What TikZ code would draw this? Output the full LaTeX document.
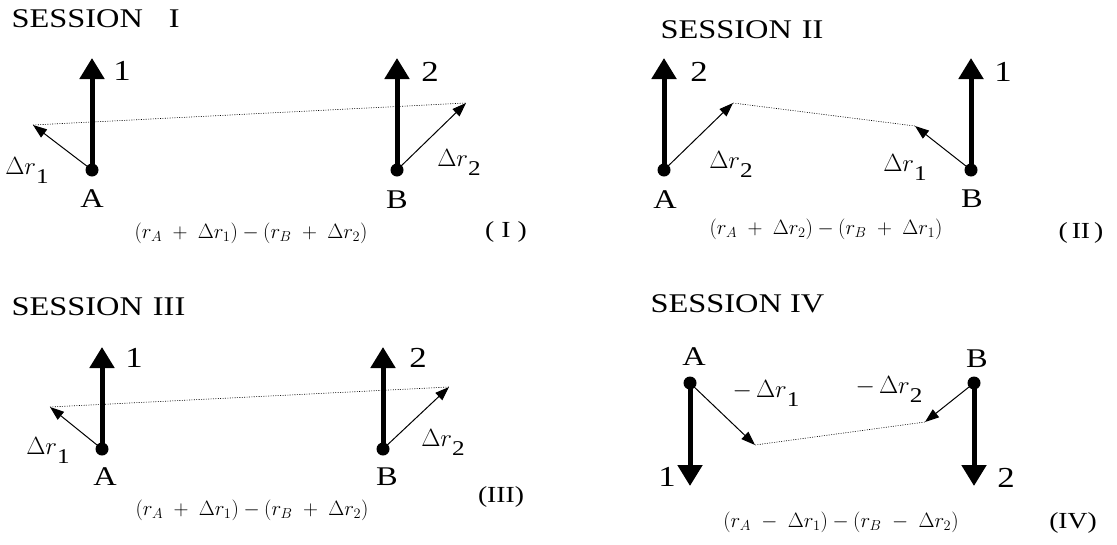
\documentclass[tikz,border=0pt]{standalone}
\usepackage{fontspec}
\setmainfont[FakeStretch=1.2]{Liberation Serif}
\usetikzlibrary{arrows.meta}
\newcommand{\drlab}[2]{{\fontsize{25}{25}\selectfont$#1\Delta r$}\raisebox{-9pt}{#2}}

\begin{document}
\begin{tikzpicture}[x=1pt, y=-1pt,
    dot/.style={circle, fill, inner sep=0pt, minimum size=13pt},
    bigarrow/.style={line width=5pt, -{Triangle[width=24pt,length=21pt]}},
    smallarrow/.style={line width=1pt, -{Triangle[width=10pt,length=14pt]}},
    link/.style={line width=0.6pt, dash pattern=on 1pt off 1.4pt},
    title/.style={anchor=west, font=\fontsize{27}{27}\selectfont},
    num/.style={font=\fontsize{29}{29}\selectfont},
    pt/.style={font=\fontsize{27}{27}\selectfont},
    dlab/.style={font=\fontsize{21}{21}\selectfont},
    eq/.style={font=\fontsize{22}{22}\selectfont},
    case/.style={font=\fontsize{23}{23}\selectfont}
]
\useasboundingbox (0,0) rectangle (1117,544);

% Session I
\node[title] (s1) at (8,19) {SESSION\hspace{26pt}I};
\node[dot] (a1) at (92,170) {};
\node[dot] (b1) at (397,170) {};
\coordinate (ta1) at (92,58);
\coordinate (tb1) at (397,58);
\coordinate (da1) at (33,125);
\coordinate (db1) at (466,103);
\draw[bigarrow] (a1.center) -- (ta1);
\draw[bigarrow] (b1.center) -- (tb1);
\draw[smallarrow] (a1.center) -- (da1);
\draw[smallarrow] (b1.center) -- (db1);
\draw[link] (da1) -- (db1);
\node[num] (n1a) at (122,71) {1};
\node[num] (n1b) at (430,72) {2};
\node[pt] (la1) at (92,199) {A};
\node[pt] (lb1) at (397,200) {B};
\node[dlab] (ra1) at (27,170) {\drlab{}{1}};
\node[dlab] (rb1) at (459,162) {\drlab{}{2}};
\node[eq] (e1) at (251,233) {$(r_A\;+\;\Delta r_1)-(r_B\;+\;\Delta r_2)$};
\node[case] (c1) at (506,232) {(\hspace{7pt}I\hspace{7pt})};

% Session II
\node[title] (s2) at (657,30) {SESSION\hspace{10pt}II};
\node[dot] (a2) at (664,170) {};
\node[dot] (b2) at (971,170) {};
\coordinate (ta2) at (664,58);
\coordinate (tb2) at (971,58);
\coordinate (da2) at (733,103);
\coordinate (db2) at (915,126);
\draw[bigarrow] (a2.center) -- (ta2);
\draw[bigarrow] (b2.center) -- (tb2);
\draw[smallarrow] (a2.center) -- (da2);
\draw[smallarrow] (b2.center) -- (db2);
\draw[link] (da2) -- (db2);
\node[num] (n2a) at (699,72) {2};
\node[num] (n2b) at (1003,72) {1};
\node[pt] (la2) at (665,200) {A};
\node[pt] (lb2) at (972,199) {B};
\node[dlab] (ra2) at (731,164) {\drlab{}{2}};
\node[dlab] (rb2) at (905,167) {\drlab{}{1}};
\node[eq] (e2) at (826,229) {$(r_A\;+\;\Delta r_2)-(r_B\;+\;\Delta r_1)$};
\node[case] (c2) at (1081,233) {(\hspace{4pt}II\hspace{4pt})};

% Session III
\node[title] (s3) at (8,307) {SESSION\hspace{10pt}III};
\node[dot] (a3) at (102,449) {};
\node[dot] (b3) at (383,449) {};
\coordinate (ta3) at (102,347);
\coordinate (tb3) at (383,347);
\coordinate (da3) at (50,407);
\coordinate (db3) at (449,387);
\draw[bigarrow] (a3.center) -- (ta3);
\draw[bigarrow] (b3.center) -- (tb3);
\draw[smallarrow] (a3.center) -- (da3);
\draw[smallarrow] (b3.center) -- (db3);
\draw[link] (da3) -- (db3);
\node[num] (n3a) at (134,358) {1};
\node[num] (n3b) at (418,358) {2};
\node[pt] (la3) at (105,477) {A};
\node[pt] (lb3) at (387,477) {B};
\node[dlab] (ra3) at (48,450) {\drlab{}{1}};
\node[dlab] (rb3) at (443,442) {\drlab{}{2}};
\node[eq] (e3) at (252,510) {$(r_A\;+\;\Delta r_1)-(r_B\;+\;\Delta r_2)$};
\node[case] (c3) at (501,497) {(III)};

% Session IV
\node[title] (s4) at (647,304) {SESSION IV};
\node[dot] (a4) at (690,383) {};
\node[dot] (b4) at (974,383) {};
\coordinate (ta4) at (690,486);
\coordinate (tb4) at (974,486);
\coordinate (da4) at (755,445);
\coordinate (db4) at (925,422);
\draw[bigarrow] (a4.center) -- (ta4);
\draw[bigarrow] (b4.center) -- (tb4);
\draw[smallarrow] (a4.center) -- (da4);
\draw[smallarrow] (b4.center) -- (db4);
\draw[link] (da4) -- (db4);
\node[num] (n4a) at (667,477) {1};
\node[num] (n4b) at (1006,478) {2};
\node[pt] (la4) at (694,357) {A};
\node[pt] (lb4) at (977,359) {B};
\node[dlab] (ra4) at (766,393) {\drlab{-\,}{1}};
\node[dlab] (rb4) at (889,389) {\drlab{-\,}{2}};
\node[eq] (e4) at (841,522) {$(r_A\;-\;\Delta r_1)-(r_B\;-\;\Delta r_2)$};
\node[case] (c4) at (1073,523) {(IV)};

\end{tikzpicture}
\end{document}
